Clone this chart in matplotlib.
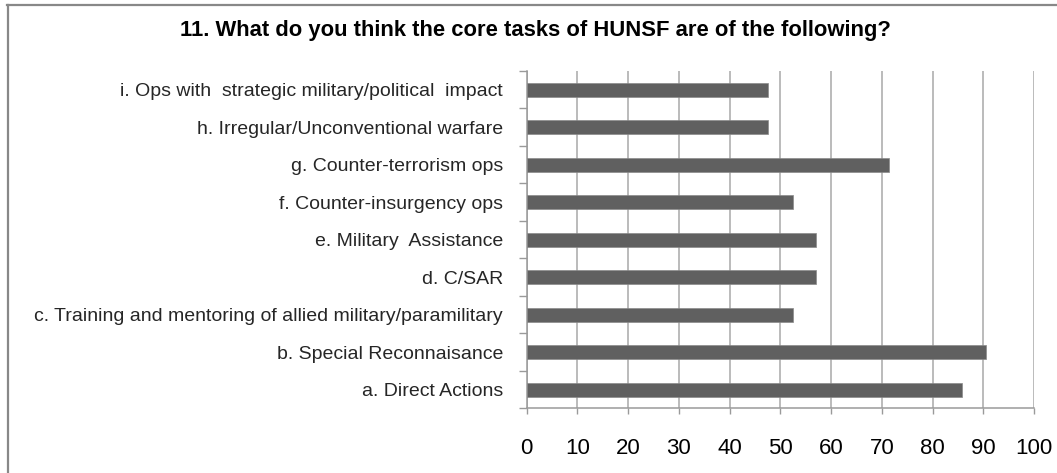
import matplotlib
matplotlib.use("Agg")
import numpy as np
from matplotlib import pyplot as plt
from matplotlib.lines import Line2D

# survey answers, percent of respondents (listed bottom to top)
tasks = [
    "a. Direct Actions",
    "b. Special Reconnaisance",
    "c. Training and mentoring of allied military/paramilitary",
    "d. C/SAR",
    "e. Military  Assistance",
    "f. Counter-insurgency ops",
    "g. Counter-terrorism ops",
    "h. Irregular/Unconventional warfare",
    "i. Ops with  strategic military/political  impact",
]
percent = [85.7, 90.5, 52.4, 57.1, 57.1, 52.4, 71.4, 47.6, 47.6]
x_ticks = [0, 10, 20, 30, 40, 50, 60, 70, 80, 90, 100]
title = "11. What do you think the core tasks of HUNSF are of the following?"

plt.rcParams["font.family"] = ["Liberation Sans Narrow", "Liberation Sans", "DejaVu Sans"]

fig = plt.figure(figsize=(10.57, 4.73), dpi=100)
ax = fig.add_axes([0.4983, 0.1364, 0.480, 0.7135])

y = np.arange(len(tasks))
ax.barh(y, percent, height=0.38, color="#606060", edgecolor="#8a8a8a", linewidth=0.5, zorder=3)

ax.set_xlim(0, 100)
ax.set_ylim(-0.5, len(tasks) - 0.5)
ax.set_xticks(x_ticks)
ax.set_xticklabels([str(t) for t in x_ticks], fontsize=16)
ax.set_yticks(y)
ax.set_yticklabels(tasks, fontsize=14, color="#262626")
ax.set_yticks(np.arange(len(tasks) + 1) - 0.5, minor=True)

ax.tick_params(axis="y", which="major", length=0, pad=17)
ax.tick_params(axis="y", which="minor", length=6, width=1, color="#9a9a9a")
ax.tick_params(axis="x", length=4, width=1, color="#9a9a9a", pad=17)

ax.grid(axis="x", color="#a8a8a8", linewidth=1.1, zorder=0)
for side in ["top", "right"]:
    ax.spines[side].set_visible(False)
for side in ["left", "bottom"]:
    ax.spines[side].set_color("#9a9a9a")
    ax.spines[side].set_linewidth(1.1)

fig.text(0.507, 0.935, title, ha="center", va="center", fontsize=15.8, fontweight="bold")

# outer frame (only top and left edges fall inside the canvas)
fig.add_artist(Line2D([0.007, 1.0], [0.990, 0.990], transform=fig.transFigure, color="#888888", lw=1.6))
fig.add_artist(Line2D([0.0075, 0.0075], [0.0, 0.990], transform=fig.transFigure, color="#888888", lw=1.6))

fig.savefig("out.png", dpi=100, facecolor="white")
